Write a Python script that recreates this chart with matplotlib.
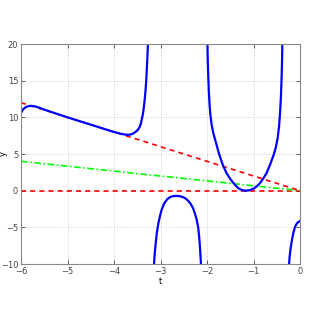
import numpy as np
import matplotlib
matplotlib.use("Agg")
import matplotlib.pyplot as plt

# blue curve
t1 = [-6.0, -5.97, -5.93, -5.88, -5.82, -5.76, -5.7, -5.6, -5.5, -5.0, -4.5, -4.0, -3.85, -3.75, -3.7,
      -3.65, -3.6, -3.55, -3.5, -3.47, -3.44, -3.42, -3.40, -3.38, -3.36, -3.34, -3.32, -3.30, -3.285, -3.27]
y1 = [10.6, 10.95, 11.25, 11.45, 11.55, 11.55, 11.5, 11.3, 11.05, 10.0, 9.0, 8.0, 7.75, 7.64, 7.62,
      7.65, 7.75, 7.95, 8.2, 8.45, 8.8, 9.2, 9.8, 10.4, 11.3, 12.4, 13.8, 15.8, 17.8, 20.0]

t2 = [-3.14, -3.12, -3.10, -3.08, -3.05, -3.01, -2.97, -2.92, -2.86, -2.80, -2.74, -2.67, -2.60, -2.53,
      -2.47, -2.41, -2.35, -2.30, -2.26, -2.22, -2.19, -2.17, -2.15, -2.13]
y2 = [-10.0, -8.3, -7.0, -5.8, -4.6, -3.4, -2.5, -1.75, -1.2, -0.9, -0.76, -0.71, -0.74, -0.85,
      -1.02, -1.35, -1.8, -2.4, -3.1, -4.0, -5.0, -6.2, -7.8, -10.0]

t3 = [-1.99, -1.985, -1.975, -1.96, -1.945, -1.925, -1.90, -1.87, -1.84, -1.81, -1.74, -1.66, -1.58,
      -1.50, -1.43, -1.33, -1.25, -1.16, -1.07, -0.98, -0.92, -0.86, -0.79, -0.72, -0.64, -0.56,
      -0.52, -0.48, -0.45, -0.43, -0.41, -0.395, -0.385, -0.38]
y3 = [20.0, 18.0, 16.0, 13.5, 11.7, 10.2, 9.0, 8.0, 7.3, 6.6, 5.0, 3.5, 2.39,
      1.6, 1.03, 0.34, 0.08, 0.0, 0.08, 0.34, 0.65, 1.03, 1.65, 2.39, 3.6, 5.0,
      5.9, 7.2, 8.8, 10.5, 12.8, 15.5, 18.0, 20.0]

t4 = [-0.235, -0.22, -0.2, -0.17, -0.14, -0.11, -0.08, -0.05, -0.02, 0.0]
y4 = [-10.0, -8.8, -7.8, -6.6, -5.7, -5.0, -4.6, -4.35, -4.2, -4.15]

# straight reference lines
t_line = [-6, 0]
y_red = [12, 0]
y_green = [4, 0]
y_zero = [0, 0]

xticks = [-6, -5, -4, -3, -2, -1, 0]
yticks = [-10, -5, 0, 5, 10, 15, 20]

fig = plt.figure(figsize=(3.14, 3.19), dpi=100)
ax = fig.add_axes([21/314, 55/319, 279/314, 220/319])

ax.plot(t_line, y_zero, color="red", ls="--", lw=1.2, dashes=(3, 2.5))
ax.plot(t_line, y_green, color="#00ff00", ls="-.", lw=1.2, dashes=(4, 1.5, 1, 1.5))
ax.plot(t_line, y_red, color="red", ls="--", lw=1.2, dashes=(3, 2.5))
for tt, yy in [(t1, y1), (t2, y2), (t3, y3), (t4, y4)]:
    ax.plot(tt, yy, color="blue", lw=1.6, solid_joinstyle="round")

ax.set_xlim(-6, 0)
ax.set_ylim(-10, 20)
ax.set_xticks(xticks)
ax.set_yticks(yticks)
ax.grid(True, ls=":", color="#cccccc", lw=0.7)
ax.tick_params(direction="in", top=True, right=True, labelsize=6, length=3,
               colors="#444444", width=0.6, pad=2)
for s in ax.spines.values():
    s.set_color("#888888")
    s.set_linewidth(0.8)
ax.set_xlabel("t", fontsize=6)
ax.set_ylabel("y", fontsize=6)
ax.xaxis.set_label_coords(0.5, -0.06)
ax.yaxis.set_label_coords(-0.048, 0.5)

fig.savefig("out.png", dpi=100)
